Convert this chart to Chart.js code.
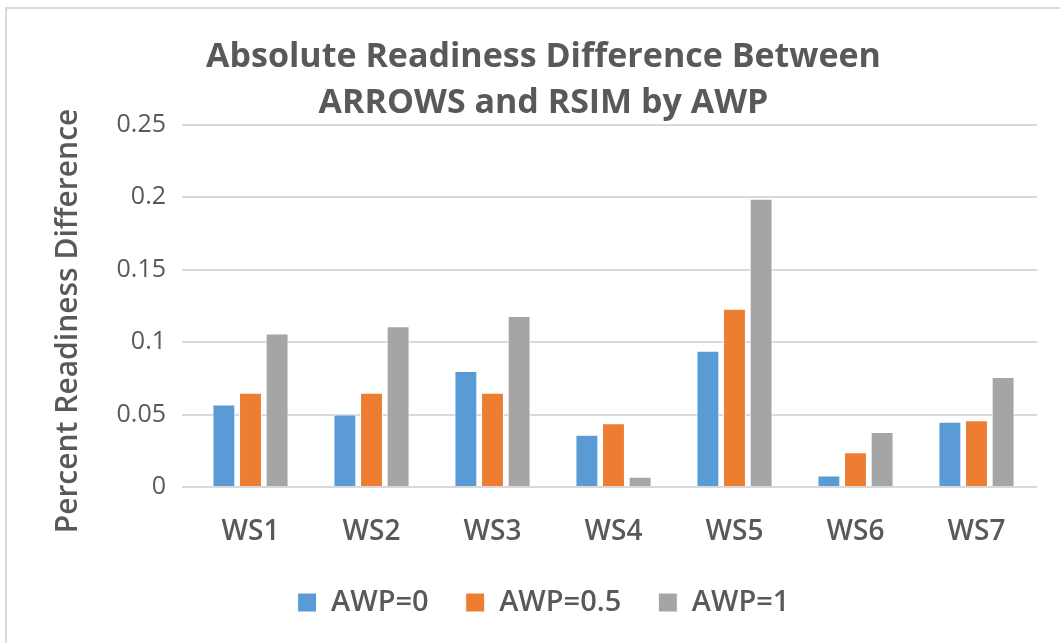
<!DOCTYPE html>
<html>
<head>
<meta charset="utf-8">
<script src="https://cdn.jsdelivr.net/npm/chart.js@4/dist/chart.umd.min.js"></script>
<style>
  html, body { margin: 0; padding: 0; background: #fff; }
  #frame {
    position: absolute; left: 5px; top: 7px; width: 1100px; height: 700px;
    border-left: 2px solid #d9d9d9; border-top: 2px solid #d9d9d9;
  }
  #wrap { position: absolute; left: 0; top: 0; width: 1060px; height: 643px; }
</style>
</head>
<body>
<div id="frame"></div>
<div id="wrap"><canvas id="chartCanvas" width="1060" height="643"></canvas></div>
<script>
const categories = ['WS1', 'WS2', 'WS3', 'WS4', 'WS5', 'WS6', 'WS7'];
const awp0   = [0.057, 0.050, 0.080, 0.036, 0.094, 0.008, 0.045];
const awp05  = [0.065, 0.065, 0.065, 0.044, 0.123, 0.024, 0.046];
const awp1   = [0.106, 0.111, 0.118, 0.007, 0.199, 0.038, 0.076];
const seriesNames = ['AWP=0', 'AWP=0.5', 'AWP=1'];
const yTicks = [0, 0.05, 0.1, 0.15, 0.2, 0.25];
const yTitle = 'Percent Readiness Difference';

const textColor = '#595959';
const fontFamily = '"Open Sans", "Liberation Sans", sans-serif';

// y axis title, drawn a bit lower than the plot centre like the original
const yTitlePlugin = {
    id: 'yTitle',
    afterDraw(c) {
        const g = c.ctx;
        g.save();
        g.translate(68, 321);
        g.rotate(-Math.PI / 2);
        g.font = '600 30px ' + fontFamily;
        g.fillStyle = textColor;
        g.textAlign = 'center';
        g.textBaseline = 'middle';
        g.fillText(yTitle, 0, 0);
        g.restore();
    }
};

const ctx = document.getElementById('chartCanvas').getContext('2d');

const chart = new Chart(ctx, {
    type: 'bar',
    data: {
        labels: categories,
        datasets: [
            { label: seriesNames[0], data: awp0,  backgroundColor: '#5B9BD5' },
            { label: seriesNames[1], data: awp05, backgroundColor: '#ED7D31' },
            { label: seriesNames[2], data: awp1,  backgroundColor: '#A5A5A5' }
        ].map(d => Object.assign(d, {
            borderColor: '#ffffff',
            borderWidth: 1,
            categoryPercentage: 0.66,
            barPercentage: 0.86
        }))
    },
    plugins: [yTitlePlugin],
    options: {
        responsive: false,
        animation: false,
        devicePixelRatio: 1,
        layout: { padding: { left: 50, right: 23, top: 0, bottom: 16 } },
        plugins: {
            title: {
                display: true,
                text: ['Absolute Readiness Difference Between', 'ARROWS and RSIM by AWP'],
                color: textColor,
                font: { family: fontFamily, size: 34, weight: 'bold', lineHeight: 1.35 },
                padding: { top: 34, bottom: -1 }
            },
            legend: {
                position: 'bottom',
                labels: {
                    color: textColor,
                    font: { family: fontFamily, size: 29, weight: '600' },
                    boxWidth: 19,
                    boxHeight: 19,
                    padding: 37
                }
            },
            tooltip: { enabled: false }
        },
        scales: {
            x: {
                grid: { display: false },
                border: { display: false },
                ticks: {
                    color: textColor,
                    font: { family: fontFamily, size: 28, weight: '600' },
                    padding: 20
                },
                afterFit: s => { s.height = 64; }
            },
            y: {
                min: 0,
                max: 0.25,
                afterBuildTicks: s => { s.ticks = yTicks.map(v => ({ value: v })); },
                grid: { color: '#d9d9d9', lineWidth: 2, drawTicks: true, tickLength: 8, tickColor: '#d9d9d9' },
                border: { display: false },
                ticks: {
                    color: textColor,
                    font: { family: fontFamily, size: 25, weight: '500' },
                    padding: 16,
                    callback: v => String(v)
                },
                afterFit: s => { s.width = 140; }
            }
        }
    }
});
</script>
</body>
</html>
